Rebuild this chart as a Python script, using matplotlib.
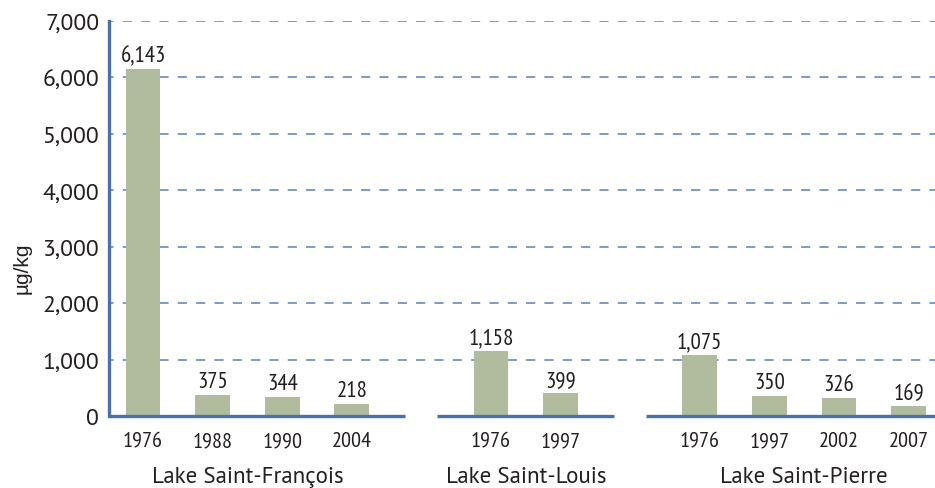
"""Bar chart of sediment concentrations (ug/kg) in three St. Lawrence lakes."""

import matplotlib

matplotlib.use("Agg")
import matplotlib.pyplot as plt
from matplotlib.ticker import FuncFormatter

lakes = ["Lake Saint-François", "Lake Saint-Louis", "Lake Saint-Pierre"]
years = [
    ["1976", "1988", "1990", "2004"],
    ["1976", "1997"],
    ["1976", "1997", "2002", "2007"],
]
values = [
    [6143, 375, 344, 218],
    [1158, 399],
    [1075, 350, 326, 169],
]
y_ticks = [0, 1000, 2000, 3000, 4000, 5000, 6000, 7000]

BAR = "#b1bb9d"
BLUE = "#4a72a8"
GRID = "#5b80b6"
TEXT = "#231f20"
NARROW = ["PT Sans Narrow", "Asap Condensed", "Archivo Narrow", "DejaVu Sans"]
REGULAR = ["PT Sans", "Lato", "Open Sans", "DejaVu Sans"]


def main() -> None:
    fig = plt.figure(figsize=(9.35, 4.89), dpi=100)
    ax = fig.add_axes([109 / 935, 72 / 489, 826 / 935, 395 / 489])

    positions = []
    start = 0
    for group in values:
        positions.append([start + i for i in range(len(group))])
        start += len(group) + 1

    # dashed grid behind the bars, skipping the zero line
    for tick in y_ticks[1:]:
        ax.axhline(tick, color=GRID, lw=1.1, linestyle=(3, (6, 6)), zorder=1)

    for g, (xs, ys) in enumerate(zip(positions, values)):
        ax.bar(xs, ys, width=0.5, color=BAR, zorder=3)
        for x, y in zip(xs, ys):
            ax.annotate(
                f"{y:,}", (x, y), xytext=(0, 2), textcoords="offset points",
                ha="center", va="bottom", fontsize=16.5, family=NARROW,
                color=TEXT, zorder=4,
            )
        left = xs[0] - 0.49 if g == 0 else xs[0] - 0.78
        right = xs[-1] + 0.76
        ax.plot([left, right], [0, 0], color=BLUE, lw=2.4,
                solid_capstyle="butt", zorder=5, clip_on=False)
        ax.text((xs[0] + xs[-1]) / 2, -0.154, lakes[g],
                transform=ax.get_xaxis_transform(), ha="center", va="center",
                fontsize=16.5, family=REGULAR, color=TEXT)

    flat_x = [x for xs in positions for x in xs]
    flat_labels = [y for ys in years for y in ys]
    ax.set_xticks(flat_x)
    ax.set_xticklabels(flat_labels, family=NARROW, fontsize=16, color=TEXT)
    ax.tick_params(axis="x", length=0, pad=11)

    ax.set_xlim(-0.49, 11.38)
    ax.set_ylim(0, 7000)
    ax.set_yticks(y_ticks)
    ax.yaxis.set_major_formatter(FuncFormatter(lambda v, _: f"{int(v):,}"))
    for label in ax.get_yticklabels():
        label.set_family(REGULAR)
        label.set_fontsize(17)
        label.set_color(TEXT)
    ax.tick_params(axis="y", length=0, pad=7)

    for side in ("top", "right", "bottom"):
        ax.spines[side].set_visible(False)
    ax.spines["left"].set_color(BLUE)
    ax.spines["left"].set_linewidth(2.4)
    ax.spines["left"].set_zorder(5)

    ax.set_ylabel("µg/kg", family=["Liberation Sans", "DejaVu Sans"],
                  fontsize=15, color=TEXT)
    ax.yaxis.set_label_coords(-0.094, 0.377)

    fig.savefig("out.png", dpi=100)


if __name__ == "__main__":
    main()
